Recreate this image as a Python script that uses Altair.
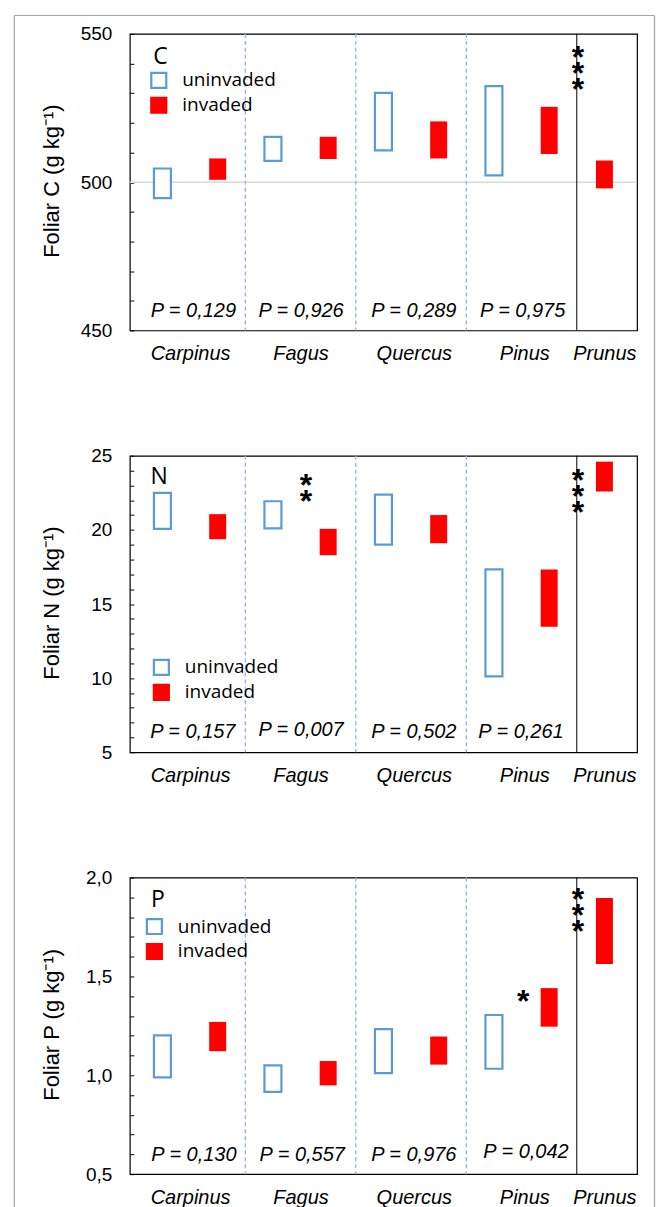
import altair as alt
import pandas as pd

# ---------------- data ----------------
species = ["Carpinus", "Fagus", "Quercus", "Pinus", "Prunus"]
species_label_x = [1.0, 3.0, 5.05, 7.05, 8.5]
bar_x = [0.5, 1.5, 2.5, 3.5, 4.5, 5.5, 6.5, 7.5, 8.5]
bar_group = ["uninvaded", "invaded", "uninvaded", "invaded", "uninvaded",
             "invaded", "uninvaded", "invaded", "invaded"]
sep_dashed_x = [2, 4, 6]
sep_solid_x = [8]

# Foliar C
c_low = [494.6, 500.8, 507.2, 507.8, 510.7, 508.0, 502.3, 509.5, 497.9]
c_high = [504.6, 508.0, 515.3, 515.3, 530.1, 520.5, 532.4, 525.4, 507.3]
c_ticks = [450, 460, 470, 480, 490, 500, 510, 520, 530, 540, 550]
c_grid = [500]
c_ptext = ["P = 0,129", "P = 0,926", "P = 0,289", "P = 0,975"]
c_px = [1.06, 3.01, 5.05, 7.02]
c_py = [454.5, 454.5, 454.5, 454.5]
c_star_x = [8.02]
c_star_y = [544.0]
c_stars = [["*", "*", "*"]]

# Foliar N
n_low = [20.07, 19.37, 20.10, 18.29, 19.00, 19.10, 10.12, 13.47, 22.59]
n_high = [22.50, 21.06, 21.93, 20.07, 22.38, 21.00, 17.34, 17.32, 24.60]
n_ticks = [5, 6, 7, 8, 9, 10, 11, 12, 13, 14, 15, 16, 17, 18, 19, 20,
           21, 22, 23, 24, 25]
n_ptext = ["P = 0,157", "P = 0,007", "P = 0,502", "P = 0,261"]
n_px = [1.05, 3.01, 5.05, 6.99]
n_py = [5.97, 6.08, 5.95, 5.97]
n_star_x = [3.1, 8.02]
n_star_y = [23.38, 23.76]
n_stars = [["*", "*"], ["*", "*", "*"]]

# Foliar P
p_low = [0.989, 1.122, 0.916, 0.949, 1.011, 1.054, 1.033, 1.246, 1.563]
p_high = [1.202, 1.270, 1.050, 1.072, 1.234, 1.196, 1.305, 1.441, 1.897]
p_ticks = [0.5, 0.6, 0.7, 0.8, 0.9, 1.0, 1.1, 1.2, 1.3, 1.4, 1.5, 1.6,
           1.7, 1.8, 1.9, 2.0]
p_ptext = ["P = 0,130", "P = 0,557", "P = 0,976", "P = 0,042"]
p_px = [1.07, 3.03, 5.05, 7.08]
p_py = [0.569, 0.569, 0.569, 0.580]
p_star_x = [7.03, 8.02]
p_star_y = [1.402, 1.917]
p_stars = [["*"], ["*", "*", "*"]]

groups = ["uninvaded", "invaded"]
group_fill = ["white", "#FF0000"]
group_stroke = ["#5B9BD5", "#FF0000"]

# ---------------- styling ----------------
W, H = 508, 297
NUM_FONT = "Liberation Sans, Arial, sans-serif"
LEG_FONT = "Open Sans, Lato, sans-serif"

label_expr = " : ".join(
    f"datum.value == {v} ? '{s}'" for v, s in zip(species_label_x, species)
) + " : ''"

xscale = alt.Scale(domain=[0, 9], nice=False, zero=False)


def make_xaxis(pad):
    return alt.Axis(values=species_label_x, labelExpr=label_expr, title=None,
                    domain=False, ticks=False, tickSize=0, grid=False,
                    labelFont=NUM_FONT, labelFontStyle="italic",
                    labelFontSize=20, labelColor="black", labelPadding=pad,
                    labelBaseline="alphabetic", labelOverlap=False,
                    labelFlush=False)


def make_panel(letter, low, high, ydom, ticks, lab_expr, ptext, px, py,
               star_x, star_y, stars, letter_xy, legend_xy, grid=None,
               frame=False, xlabel_pad=29):
    yscale = alt.Scale(domain=ydom, nice=False, zero=False)
    yaxis = alt.Axis(values=ticks, labelExpr=lab_expr,
                     title=f"Foliar {letter} (g kg\u207b\u00b9)",
                     domain=False, grid=False, tickSize=4, tickColor="black",
                     tickWidth=1, offset=-4, labelPadding=18, labelFont=NUM_FONT,
                     labelFontSize=19, labelColor="black", titleFont=NUM_FONT,
                     titleFontSize=22, titleFontWeight="normal",
                     titleColor="black", titleAngle=270, titleX=-82,
                     titleY=147, titleAlign="center", titleBaseline="middle")
    xaxis = make_xaxis(xlabel_pad)

    def X(field):
        return alt.X(field, type="quantitative", scale=xscale, axis=xaxis)

    def Y(field):
        return alt.Y(field, type="quantitative", scale=yscale, axis=yaxis)

    layers = []
    if grid is not None:
        layers.append(alt.Chart(pd.DataFrame({"y": grid}))
                      .mark_rule(color="#D9D9D9", strokeWidth=1.5)
                      .encode(y=Y("y")))
    layers.append(alt.Chart(pd.DataFrame({"x": sep_dashed_x}))
                  .mark_rule(color="#8DB4E2", strokeWidth=1.3, strokeDash=[4, 3])
                  .encode(x=X("x")))
    layers.append(alt.Chart(pd.DataFrame({"x": sep_solid_x}))
                  .mark_rule(color="black", strokeWidth=1)
                  .encode(x=X("x")))

    leg = alt.Legend(title=None, orient="none", legendX=legend_xy[0],
                     legendY=legend_xy[1], symbolType="square", symbolSize=225,
                     symbolStrokeWidth=2.2, labelFont=LEG_FONT, labelFontSize=19,
                     labelColor="black", labelOffset=14, rowPadding=0, padding=0)
    df = pd.DataFrame({"x": bar_x, "group": bar_group, "low": low, "high": high})
    layers.append(
        alt.Chart(df).mark_bar(size=17).encode(
            x=X("x"), y=Y("low"), y2="high",
            fill=alt.Fill("group:N", scale=alt.Scale(domain=groups, range=group_fill),
                          legend=leg),
            stroke=alt.Stroke("group:N",
                              scale=alt.Scale(domain=groups, range=group_stroke),
                              legend=leg),
            strokeWidth=alt.condition("datum.group == 'uninvaded'",
                                      alt.value(2.2), alt.value(0)),
        ))
    layers.append(
        alt.Chart(pd.DataFrame({"x": px, "y": py, "t": ptext}))
        .mark_text(font=NUM_FONT, fontSize=20, fontStyle="italic",
                   baseline="alphabetic", align="center", color="black")
        .encode(x=X("x"), y=Y("y"), text="t:N"))
    layers.append(
        alt.Chart(pd.DataFrame({"x": star_x, "y": star_y, "t": stars}))
        .mark_text(font=NUM_FONT, fontSize=32, fontWeight="bold",
                   baseline="alphabetic", dy=16.5, lineHeight=16,
                   align="center", color="black")
        .encode(x=X("x"), y=Y("y"), text="t"))
    layers.append(
        alt.Chart(pd.DataFrame({"x": [letter_xy[0]], "y": [letter_xy[1]],
                                "t": [letter]}))
        .mark_text(font=LEG_FONT, fontSize=23, baseline="middle", dy=1,
                   align="center", color="black")
        .encode(x=X("x"), y=Y("y"), text="t:N"))
    if frame:
        # outer figure border (left, top, right), open at the bottom like the crop
        fr = alt.Chart(pd.DataFrame({"a": [0]}))
        style = dict(color="#A6A6A6", strokeWidth=1.2)
        layers.append(fr.mark_rule(**style).encode(
            x=alt.value(-115.7), y=alt.value(-18.4), y2=alt.value(1180)))
        layers.append(fr.mark_rule(**style).encode(
            x=alt.value(525.5), y=alt.value(-18.4), y2=alt.value(1180)))
        layers.append(fr.mark_rule(**style).encode(
            x=alt.value(-115.7), x2=alt.value(525.5), y=alt.value(-18.4)))
    return alt.layer(*layers).properties(width=W, height=H)


panel_c = make_panel("C", c_low, c_high, [450, 550], c_ticks,
                     "datum.value % 50 == 0 ? datum.label : ''",
                     c_ptext, c_px, c_py, c_star_x, c_star_y, c_stars,
                     (0.465, 542.6), (19.5, 37), grid=c_grid, frame=True)
panel_n = make_panel("N", n_low, n_high, [5, 25], n_ticks,
                     "datum.value % 5 == 0 ? datum.label : ''",
                     n_ptext, n_px, n_py, n_star_x, n_star_y, n_stars,
                     (0.44, 23.6), (22.1, 202.5))
panel_p = make_panel("P", p_low, p_high, [0.5, 2.0], p_ticks,
                     "round(datum.value * 10) % 5 == 0 ? "
                     "replace(format(datum.value, '.1f'), '.', ',') : ''",
                     p_ptext, p_px, p_py, p_star_x, p_star_y, p_stars,
                     (0.42, 1.894), (15.1, 39.5), xlabel_pad=29)

chart = (
    alt.vconcat(panel_c, panel_n, panel_p, spacing=125.5, bounds="flush")
    .resolve_scale(fill="independent", stroke="independent")
    .properties(background="white")
    .configure_view(stroke="black", strokeWidth=1.2)
)

chart.save("out.html", embed_options={"renderer": "svg", "actions": False})
